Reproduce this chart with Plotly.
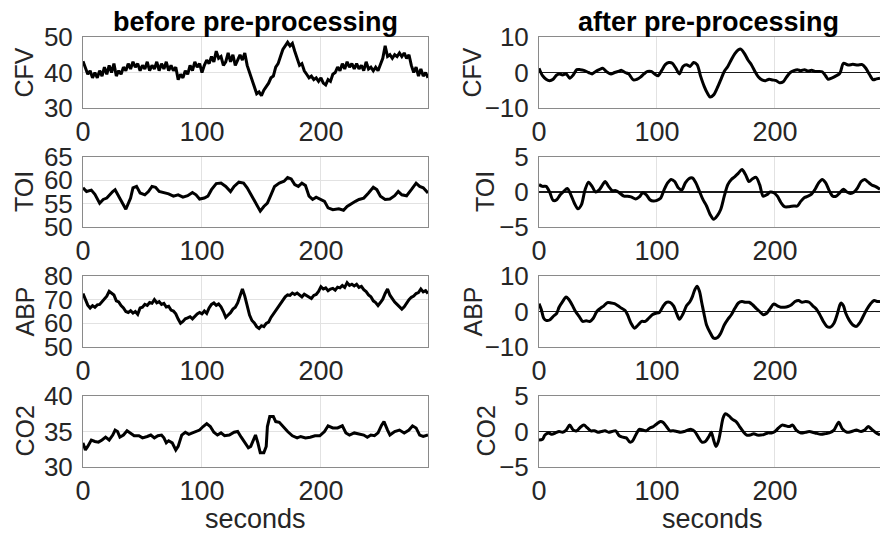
import plotly.graph_objects as go

W, H = 880, 533

# ---------------- data ----------------
T2 = list(range(0, 291, 2))  # 2-second sampling grid for noisy raw series

CFV_before = [43.2, 41.5, 39.5, 40.5, 38.5, 40, 38.5, 40.5, 39, 41.5, 39.5, 42, 40, 42.5, 39, 40.5,
              39.5, 41.5, 40.5, 42.5, 41, 43, 41.5, 42.5, 40.5, 42, 41, 43, 40.5, 42, 41, 43,
              40.5, 42.5, 41, 43, 40.5, 42, 40.5, 41.5, 38, 39.5, 38.5, 40.5, 39.5, 42, 40.5, 43,
              41.5, 42.5, 40, 42, 43.5, 42.5, 44.5, 43, 46, 44, 44.5, 42, 43, 45.5, 43, 45,
              42, 43.5, 45, 43.5, 45.5, 42, 40, 38, 36, 34, 34.5, 33.5, 35, 36, 37, 38.5,
              39, 41.5, 42.5, 44.5, 46.5, 47.5, 48.5, 47.5, 48.2, 46, 44, 42, 42.5, 40.5, 39.5, 38.5,
              39, 38, 38.5, 37.5, 38.5, 37, 36.5, 38, 37.5, 39.5, 40, 41.5, 40.5, 42.5, 41, 43,
              41.5, 42.5, 41, 42.5, 41, 42, 40.5, 43, 41, 41.5, 40.5, 41.5, 40.5, 42, 44, 47.5,
              44.5, 45, 44, 45, 44.5, 45.5, 44.5, 45.5, 44, 45, 42, 40, 41.5, 39, 41, 39,
              40, 38.5]

ABP_before = [72.6, 70.5, 67.7, 66.5, 67.5, 66.8, 67.8, 68, 69.3, 70.2, 71.5, 73.5, 72.8, 72, 69.5, 69,
              67.5, 66.5, 65, 64.6, 65.3, 64.3, 65, 63.8, 66.5, 66.8, 68, 67.6, 68.8, 68.5, 70, 68.7,
              69.2, 68, 68.4, 66.9, 67.2, 65.6, 65.2, 64, 61.8, 60, 60.8, 61.9, 62.3, 62.8, 61.9, 63.2,
              64, 64.6, 64, 65.2, 64.2, 66.5, 68, 68.6, 67.6, 68.2, 67, 65, 62.5, 63.5, 64.5, 66,
              66.8, 68.6, 71.2, 74.5, 71.5, 67, 63.5, 61.2, 60.2, 58.6, 57.8, 59, 58.6, 60, 60.5, 62.5,
              64, 65.6, 66.8, 68.4, 70, 71.2, 72, 71.8, 72.8, 72.2, 72.8, 71.8, 71.2, 72.3, 71.7, 70.8,
              70.5, 71.8, 72.2, 73.5, 75.5, 74.5, 75, 73.8, 74.5, 74.8, 74, 75.3, 75, 76, 75.2, 77.2,
              76, 76.5, 75.8, 76.5, 75.2, 75.6, 74.2, 73.4, 72, 71.2, 69.5, 68.8, 67.5, 68.8, 70.2, 72.6,
              74.5, 71.9, 70.2, 69, 68, 67.2, 66, 67, 68.8, 70, 71, 71.5, 72.6, 73, 74.5, 73.3,
              73.8, 72.6]

TOI_before_t = [0, 3, 7, 10, 14, 17, 20, 23, 25, 27, 30, 33, 36, 40, 42, 45, 48, 52, 55, 58, 61, 64,
                68, 72, 76, 80, 84, 88, 92, 95, 98, 102, 105, 108, 112, 116, 120, 124, 127, 131, 135,
                138, 142, 146, 149, 152, 155, 158, 161, 165, 169, 172, 175, 178, 181, 184, 187, 190,
                193, 196, 199, 203, 206, 210, 215, 219, 222, 226, 229, 232, 236, 240, 244, 247, 250,
                254, 258, 262, 265, 268, 272, 276, 280, 283, 286, 290]
TOI_before = [58.4, 57.6, 57.9, 57, 55.1, 55.9, 56.2, 57.1, 57.6, 58, 56.6, 55.5, 53.8, 56.2, 58.4,
              58.7, 57.3, 56.9, 57.6, 58.7, 58.5, 57.6, 57.4, 57.1, 56.6, 56.9, 56.4, 56.7, 57.4, 56.9,
              56, 56.2, 56.6, 58, 59.3, 59.4, 58.7, 57.6, 58.7, 59.6, 59.4, 58.4, 56.6, 54.8, 53.4,
              54.4, 55.1, 56.9, 58.7, 59.4, 59.8, 60.6, 60.3, 59.1, 58.7, 59.4, 58.9, 56.6, 55.9, 56.4,
              56, 55.5, 54.1, 53.7, 53.9, 53.6, 54.4, 55.1, 55.5, 55.9, 56.2, 57.3, 58.5, 58, 56.6,
              55.9, 56, 56.7, 57.6, 56.9, 56.7, 58, 59.4, 58.7, 58.4, 57.3]

ABP_before_t = T2

CO2_before_t = [0, 2, 4, 7, 10, 13, 16, 19, 22, 25, 27, 29, 31, 34, 37, 40, 43, 47, 50, 54, 57, 60,
                63, 66, 68, 70, 72, 75, 78, 80, 83, 86, 89, 92, 95, 98, 101, 104, 107, 110, 113, 116,
                119, 123, 127, 130, 133, 136, 139, 141, 143, 145, 147, 149, 152, 154, 155, 157, 160,
                162, 165, 168, 172, 176, 180, 183, 187, 191, 195, 199, 203, 206, 210, 214, 218, 221,
                224, 228, 232, 236, 239, 242, 245, 248, 251, 253, 256, 258, 262, 266, 270, 274, 277,
                280, 283, 286, 290]
CO2_before = [33.4, 32.4, 32.9, 33.8, 33.6, 33.5, 33.8, 34.2, 33.8, 34.5, 35.2, 35, 34.2, 34.5, 35.1,
              34.8, 34.4, 34.4, 34.1, 34.3, 34.5, 34.1, 34.4, 34.5, 34.1, 33.4, 33.7, 33.4, 32.4, 32.9,
              34.5, 34.9, 34.6, 34.8, 35, 35.2, 35.7, 36.1, 35.7, 34.9, 34.5, 34.8, 34.4, 34.5, 34.9,
              35, 34.2, 33.4, 32.7, 32.9, 33.8, 34.5, 33.4, 32, 32, 32.9, 35.7, 37.1, 37.1, 36.4, 36.3,
              35.7, 35, 34.4, 34.1, 34.3, 34.1, 34.2, 34.4, 34.4, 35, 35.8, 35.5, 35.5, 35.8, 34.8,
              34.5, 34.8, 34.7, 34.5, 34.2, 34.5, 34.4, 34.8, 35.9, 36.4, 35.2, 34.5, 35, 35.2, 34.8,
              35.2, 35.8, 35.5, 34.5, 34.3, 34.5]

CFV_after_t = [0, 3, 6, 9, 12, 15, 17, 20, 23, 26, 29, 32, 35, 38, 42, 45, 48, 51, 54, 57, 61, 64, 67,
               70, 73, 76, 80, 83, 86, 89, 92, 95, 98, 101, 104, 107, 110, 113, 116, 119, 122, 125,
               128, 131, 134, 137, 140, 143, 145, 148, 151, 154, 157, 160, 163, 166, 169, 171, 174,
               177, 180, 183, 186, 189, 192, 195, 198, 201, 204, 207, 210, 213, 216, 219, 222, 225,
               228, 231, 234, 237, 240, 243, 245, 248, 251, 255, 258, 262, 266, 270, 274, 277, 280,
               283, 286, 289]
CFV_after = [1.2, -0.9, -1.9, -2.3, -1.9, -0.7, -0.4, -0.7, -0.4, -1.6, -0.7, 0.8, 0.8, 0.6, 0, -0.4,
             0.3, 0.8, 1.2, 0.3, -0.4, 0, 0.3, 0.6, 0, -0.4, -2.1, -1.9, -1.3, -0.4, 0.3, 0.3, -0.4,
             -0.9, 0.6, 2.2, 2.8, 2.6, 1.2, -0.4, 1.7, 2.2, 1.7, 2.8, 2.2, -1.1, -3.9, -6, -6.9, -6.3,
             -4.4, -2.1, 0.3, 1.7, 3.6, 5.3, 6.4, 6.6, 5.4, 3.6, 2.2, 0.3, -1.3, -2.1, -2.3, -1.9,
             -2.1, -2.3, -2.9, -2.6, -1.2, 0, 0.5, 0.75, 0.5, 0.8, 0.4, 0.6, 0.3, 0.3, 0.2, -1.0, -1.9,
             -1.6, -1.1, -0.2, 2.6, 2.1, 2.3, 2.1, 2.2, 1.2, -0.5, -2, -1.8, -1.6]

TOI_after_t = [0, 3, 6, 9, 12, 15, 18, 21, 24, 27, 30, 33, 36, 39, 42, 45, 48, 51, 54, 56, 59, 62, 65,
               68, 72, 75, 78, 82, 85, 88, 91, 94, 97, 100, 103, 106, 109, 112, 115, 118, 121, 124,
               127, 130, 133, 136, 139, 142, 145, 148, 151, 154, 157, 160, 163, 166, 169, 172, 175,
               178, 181, 184, 187, 190, 193, 196, 199, 202, 205, 208, 212, 216, 219, 222, 225, 228,
               231, 234, 237, 240, 243, 246, 249, 252, 255, 258, 261, 264, 267, 270, 273, 276, 279,
               282, 285, 289]
TOI_after = [1.05, 0.8, 0.8, 0, -1.2, -1.1, -0.4, 0.1, 0.5, -0.4, -1.6, -2.4, -1.8, 0.3, 1.4, 0.8, 0,
             0.3, 1.05, 1.5, 0.8, 0.2, 0.2, -0.1, -0.6, -0.6, -0.7, -1, -0.7, -0.1, -0.4, -1.1, -1.3,
             -1.2, -0.9, 0.3, 1.3, 1.8, 1.5, 0.6, 0.3, 1.3, 1.9, 2, 1.3, 0.1, -1.1, -2, -3.2, -3.9,
             -3.4, -2.5, -0.6, 1.05, 1.8, 2.2, 2.7, 3.2, 2.5, 1.5, 1.9, 2.1, 1.05, -0.6, -0.4, 0, -0.1,
             -0.6, -1.5, -2.1, -2.1, -2, -2, -1.3, -0.8, -0.6, -0.3, 0.4, 1.3, 1.8, 1.3, 0.2, -0.6,
             -0.6, -0.1, 0.4, 0, -0.2, 0, 0.6, 1.5, 1.8, 1.4, 1.0, 0.8, 0.4]

ABP_after_t = [0, 2, 4, 6, 9, 12, 15, 17, 20, 23, 25, 28, 31, 34, 37, 40, 43, 46, 49, 52, 55, 58, 61,
               64, 67, 70, 73, 75, 78, 81, 84, 87, 90, 93, 96, 99, 102, 105, 108, 111, 114, 117, 119,
               122, 125, 128, 130, 132, 134, 136, 138, 140, 142, 145, 148, 151, 154, 157, 160, 163,
               166, 169, 172, 175, 178, 181, 184, 187, 190, 193, 196, 199, 202, 205, 208, 211, 214,
               217, 220, 223, 226, 229, 232, 235, 238, 241, 244, 247, 250, 253, 255, 256, 258, 260,
               263, 266, 269, 272, 275, 278, 281, 284, 287, 289]
ABP_after = [2.2, 0.5, -1.9, -2.5, -2.4, -1.4, -0.5, 1.2, 2.8, 4.1, 3.5, 1.9, 0, -1.4, -2.8, -2.6,
             -2.8, -1.9, 0, 0.9, 1.6, 2.5, 2.4, 2.2, 1.6, 0.9, 0.3, -0.9, -3.3, -4.7, -3.8, -2.8,
             -2.8, -1.9, -0.9, -0.5, -0.3, 1.4, 2.6, 2.6, 1.6, -0.9, -2.2, -0.7, 1.6, 2.8, 4.2, 6.1,
             7.1, 5.7, 2.4, -0.9, -3.8, -5.9, -7.5, -7.4, -6.1, -3.8, -2.2, -0.9, 0.9, 2.4, 2.8, 2.6,
             2.6, 1.9, 0.9, 0, -0.9, -0.5, 0.9, 2.1, 1.6, 1.2, 1.2, 1.4, 1.9, 2.8, 3.1, 2.6, 2.8, 2.6,
             1.6, 0.7, -0.9, -2.8, -4.2, -4.4, -3.3, -0.5, 1.9, 2.4, 1.6, -0.5, -2.5, -3.8, -4.2,
             -3.1, -1.2, 0.7, 2.2, 3.1, 2.8, 2.8]

CO2_after_t = [0, 3, 5, 8, 11, 14, 17, 20, 23, 26, 29, 32, 35, 38, 41, 44, 47, 50, 53, 56, 59, 62, 65,
               68, 71, 74, 77, 79, 82, 85, 88, 91, 94, 97, 100, 103, 105, 108, 111, 114, 117, 120,
               123, 126, 129, 132, 135, 138, 141, 144, 146, 148, 150, 152, 154, 156, 158, 161, 164,
               167, 170, 173, 176, 179, 182, 185, 188, 191, 194, 197, 200, 203, 206, 209, 212, 215,
               218, 222, 226, 229, 234, 239, 243, 246, 250, 254, 257, 261, 265, 269, 273, 276, 279,
               282, 285, 289]
CO2_after = [-1.2, -1.1, -0.5, -0.2, -0.4, -0.2, 0, -0.1, 0.2, 0.9, 0.2, 0.1, 0.6, 0.9, 0.5, 0.1, 0.1,
             -0.1, 0, 0.1, -0.1, 0, 0.1, -0.6, -0.8, -0.9, -1.5, -1.4, -0.5, 0.3, 0.2, 0.1, 0.5, 0.7,
             1.1, 1.4, 1.3, 0.7, 0.1, 0.1, 0, -0.1, 0, 0.2, 0.3, 0, -0.8, -1.5, -1.4, -0.7, -0.1,
             -1.2, -2.1, -1.4, 0.2, 1.9, 2.5, 2.2, 1.7, 1.4, 0.7, 0, -0.5, -0.5, -0.3, -0.5, -0.5,
             -0.4, -0.2, -0.2, 0, 0.5, 0.9, 0.8, 0.7, 0.9, 0.2, -0.2, -0.1, 0, -0.2, -0.4, -0.3,
             -0.2, 0.2, 1.3, 0.4, -0.1, 0, 0.2, 0, 0.2, 0.7, 0.3, -0.1, -0.5]

LABELS = ["CFV", "TOI", "ABP", "CO2"]
X_TICKS = [0, 100, 200]
Y_TICKS_BEFORE = [[30, 40, 50], [50, 55, 60, 65], [50, 60, 70, 80], [30, 35, 40]]
Y_TICKS_AFTER = [[-10, 0, 10], [-5, 0, 5], [-10, 0, 10], [-5, 0, 5]]
TITLES = ["before pre-processing", "after pre-processing"]
XLABEL = "seconds"

before = [(T2, CFV_before), (TOI_before_t, TOI_before), (ABP_before_t, ABP_before), (CO2_before_t, CO2_before)]
after = [(CFV_after_t, CFV_after), (TOI_after_t, TOI_after), (ABP_after_t, ABP_after), (CO2_after_t, CO2_after)]

# ---------------- layout geometry (pixels) ----------------
FONT = "Liberation Sans, Arial, sans-serif"
TXT = "#262626"
col_px = [(83, 428), (539, 880)]
xrange_ = [[0, 290], [0, 289]]
row_px = [(37, 108), (157, 227), (276, 347), (396, 467)]

fig = go.Figure()
layout = dict(width=W, height=H, margin=dict(l=0, r=0, t=0, b=0, autoexpand=False),
              paper_bgcolor="white", plot_bgcolor="white", showlegend=False)

for r in range(4):
    for c in range(2):
        idx = r * 2 + c + 1
        sfx = "" if idx == 1 else str(idx)
        t, v = (before if c == 0 else after)[r]
        fig.add_trace(go.Scatter(x=t, y=v, mode="lines",
                                 line=dict(color="black", width=3,
                                           shape="linear" if c == 0 else "spline", smoothing=0.8),
                                 xaxis="x" + sfx, yaxis="y" + sfx, hoverinfo="skip"))
        yt = Y_TICKS_BEFORE[r] if c == 0 else Y_TICKS_AFTER[r]
        x0, x1 = col_px[c]
        top, bot = row_px[r]
        layout["xaxis" + sfx] = dict(
            domain=[x0 / W, x1 / W], anchor="y" + sfx, range=xrange_[c], automargin=False,
            tickvals=X_TICKS, ticks="", showgrid=True, gridcolor="#e2e2e2", gridwidth=1,
            showline=True, linecolor="#8a8a8a", linewidth=1, mirror=True, zeroline=False,
            tickfont=dict(family=FONT, size=27, color=TXT), ticklabelstandoff=0,
            fixedrange=True)
        layout["yaxis" + sfx] = dict(
            domain=[1 - bot / H, 1 - top / H], anchor="x" + sfx, range=[yt[0], yt[-1]],
            automargin=False,
            tickvals=yt, ticks="", showgrid=True, gridcolor="#e2e2e2", gridwidth=1,
            showline=True, linecolor="#8a8a8a", linewidth=1, mirror=(c == 0),
            zeroline=(c == 1), zerolinecolor="#1a1a1a", zerolinewidth=1.5,
            tickfont=dict(family=FONT, size=26, color=TXT), ticklabelstandoff=4,
            fixedrange=True)

ann = []
for c, (cx, title) in enumerate(zip([255, 708], TITLES)):
    ann.append(dict(text="<b>" + title + "</b>", x=cx / W, y=1 - 22 / H, xref="paper", yref="paper",
                    xanchor="center", yanchor="middle", showarrow=False,
                    font=dict(family=FONT, size=27, color="black")))
    ann.append(dict(text=XLABEL, x=(255 if c == 0 else 712) / W, y=1 - 519 / H, xref="paper",
                    yref="paper", xanchor="center", yanchor="middle", showarrow=False,
                    font=dict(family=FONT, size=27, color=TXT)))
ylab_x = [[24, 472], [24, 485], [24, 472], [24, 485]]
for r in range(4):
    top, bot = row_px[r]
    for c in range(2):
        ann.append(dict(text=LABELS[r], x=ylab_x[r][c] / W, y=1 - (top + bot) / 2 / H,
                        xref="paper", yref="paper", xanchor="center", yanchor="middle",
                        textangle=-90, showarrow=False,
                        font=dict(family=FONT, size=25, color=TXT)))
layout["annotations"] = ann
fig.update_layout(**layout)
fig.write_html("out.html", config={"displayModeBar": False, "staticPlot": True},
               post_script="document.body.style.margin='0px';document.body.style.overflow='hidden';")
